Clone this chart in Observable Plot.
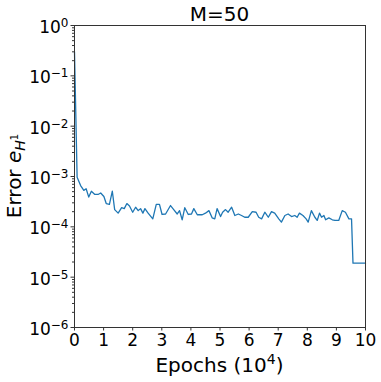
<!DOCTYPE html>
<html><head><meta charset="utf-8">
<script src="https://cdn.jsdelivr.net/npm/d3@7"></script>
<script src="https://cdn.jsdelivr.net/npm/@observablehq/plot@0.6"></script>
<style>html,body{margin:0;padding:0;background:#fff}svg{display:block}</style>
</head><body><div id="chart"></div>
<script>
const title = "M=50";
const xLabel = "Epochs (10";
const xLabelSup = "4";
const yLabel = "Error ";
const epochs = [0, 0.09, 0.21, 0.32, 0.40, 0.49, 0.58, 0.70, 0.81, 0.90, 1.01, 1.09, 1.20, 1.30, 1.38, 1.50, 1.62, 1.71, 1.80, 1.89,
  2.00, 2.10, 2.19, 2.27, 2.35, 2.42, 2.53, 2.69, 2.81, 2.92, 3.01, 3.13, 3.30, 3.41, 3.53, 3.61, 3.70, 3.79, 3.91,
  4.02, 4.10, 4.22, 4.39, 4.50, 4.62, 4.73, 4.82, 4.90, 5.02, 5.09, 5.19, 5.28, 5.40, 5.51, 5.63, 5.74, 5.85, 5.97,
  6.11, 6.24, 6.33, 6.43, 6.54, 6.66, 6.77, 6.88, 7.02, 7.11, 7.23, 7.34, 7.46, 7.57, 7.65, 7.73, 7.85, 7.96,
  8.03, 8.14, 8.26, 8.34, 8.42, 8.49, 8.57, 8.63, 8.74, 8.86, 8.95, 9.08, 9.20, 9.31, 9.43, 9.52, 9.57, 10];
const errors = [0.30, 9.7e-4, 6.6e-4, 5.3e-4, 5.7e-4, 3.9e-4, 5.1e-4, 4.4e-4, 4.4e-4, 4.7e-4, 4.0e-4, 2.9e-4, 2.8e-4, 5.1e-4, 2.2e-4, 1.87e-4, 2.4e-4, 2.3e-4, 2.9e-4, 2.6e-4,
  1.95e-4, 2.45e-4, 2.1e-4, 2.3e-4, 1.87e-4, 2.3e-4, 1.87e-4, 1.44e-4, 2.8e-4, 2.8e-4, 1.76e-4, 1.8e-4, 2.65e-4, 2.2e-4, 1.8e-4, 2.1e-4, 1.38e-4, 2.4e-4, 1.76e-4,
  1.8e-4, 2.3e-4, 1.74e-4, 1.74e-4, 1.87e-4, 2.1e-4, 1.51e-4, 1.44e-4, 2.3e-4, 1.6e-4, 1.95e-4, 2.2e-4, 1.95e-4, 2.45e-4, 1.68e-4, 1.8e-4, 1.68e-4, 1.55e-4, 1.55e-4,
  2.0e-4, 1.95e-4, 1.55e-4, 1.44e-4, 1.95e-4, 1.55e-4, 2.0e-4, 1.87e-4, 1.44e-4, 1.24e-4, 1.68e-4, 1.8e-4, 1.6e-4, 1.68e-4, 1.55e-4, 1.87e-4, 1.68e-4, 1.44e-4,
  1.24e-4, 2.1e-4, 1.55e-4, 1.34e-4, 1.87e-4, 1.55e-4, 1.68e-4, 1.38e-4, 1.51e-4, 1.38e-4, 1.34e-4, 1.34e-4, 2.1e-4, 1.95e-4, 1.44e-4, 1.44e-4, 1.9e-5, 1.9e-5];
const xTicks = [0, 1, 2, 3, 4, 5, 6, 7, 8, 9, 10];
const yTicks = [1e-6, 1e-5, 1e-4, 1e-3, 1e-2, 1e-1, 1e0];
const yMinorTicks = yTicks.slice(0, -1).flatMap(p => [2,3,4,5,6,7,8,9].map(m => m * p));

const data = epochs.map((x, i) => ({x, y: errors[i]}));

const ML = 74, MR = 16, MT = 25, MB = 55, W = 381, H = 382;
const plot = Plot.plot({
  width: W, height: H,
  marginLeft: ML, marginRight: MR, marginTop: MT, marginBottom: MB,
  style: {fontFamily: "DejaVu Sans", fontSize: "17px", color: "#000", background: "#fff"},
  x: {domain: [0, 10]},
  y: {type: "log", domain: [1e-6, 1]},
  marks: [
    Plot.line(data, {x: "x", y: "y", stroke: "#1f77b4", strokeWidth: 1.3}),
    Plot.frame({stroke: "#333", strokeWidth: 1}),
    Plot.axisX({ticks: xTicks, tickSize: 3.5, tickPadding: 2.5, label: null, tickFormat: d => String(d), stroke: "#333"}),
    Plot.axisY({ticks: yMinorTicks, tickSize: 2, label: null, tickFormat: () => "", stroke: "#333"}),
    Plot.axisY({ticks: yTicks, tickSize: 3.5, tickPadding: 2.5, label: null, stroke: "#333",
      tickFormat: d => "10^" + Math.round(Math.log10(d))})
  ]
});
document.getElementById("chart").appendChild(plot);

const svg = d3.select(plot);
svg.selectAll("text").each(function() {
  const t = d3.select(this);
  const s = t.text();
  if (s.startsWith("10^")) {
    const e = +s.slice(3);
    t.text("");
    t.append("tspan").text("10");
    t.append("tspan").attr("dy", "-0.5em").attr("font-size", "12px").text(e < 0 ? "\u2212" + (-e) : String(e));
    t.attr("transform", (t.attr("transform") || "") + " translate(0,2)");
  }
});

const cx = ML + (W - ML - MR) / 2;
svg.append("text").attr("x", cx).attr("y", 21).attr("text-anchor", "middle")
  .attr("font-family", "DejaVu Sans").attr("font-size", 20).attr("fill", "#000").text(title);

const xl = svg.append("text").attr("x", cx).attr("y", 372).attr("text-anchor", "middle")
  .attr("font-family", "DejaVu Sans").attr("font-size", 20).attr("fill", "#000");
xl.append("tspan").text(xLabel);
xl.append("tspan").attr("dy", -8).attr("font-size", 14).text(xLabelSup);
xl.append("tspan").attr("dy", 8).text(")");

const yl = svg.append("text").attr("transform", `translate(21,${MT + (H - MT - MB) / 2}) rotate(-90)`)
  .attr("text-anchor", "middle").attr("font-family", "DejaVu Sans").attr("font-size", 20).attr("fill", "#000");
yl.append("tspan").text(yLabel);
yl.append("tspan").attr("font-style", "italic").text("e");
yl.append("tspan").attr("font-style", "italic").attr("font-size", 14).attr("dy", 4).text("H");
yl.append("tspan").attr("font-size", 10).attr("dy", -7).text("1");
</script>
</body></html>
